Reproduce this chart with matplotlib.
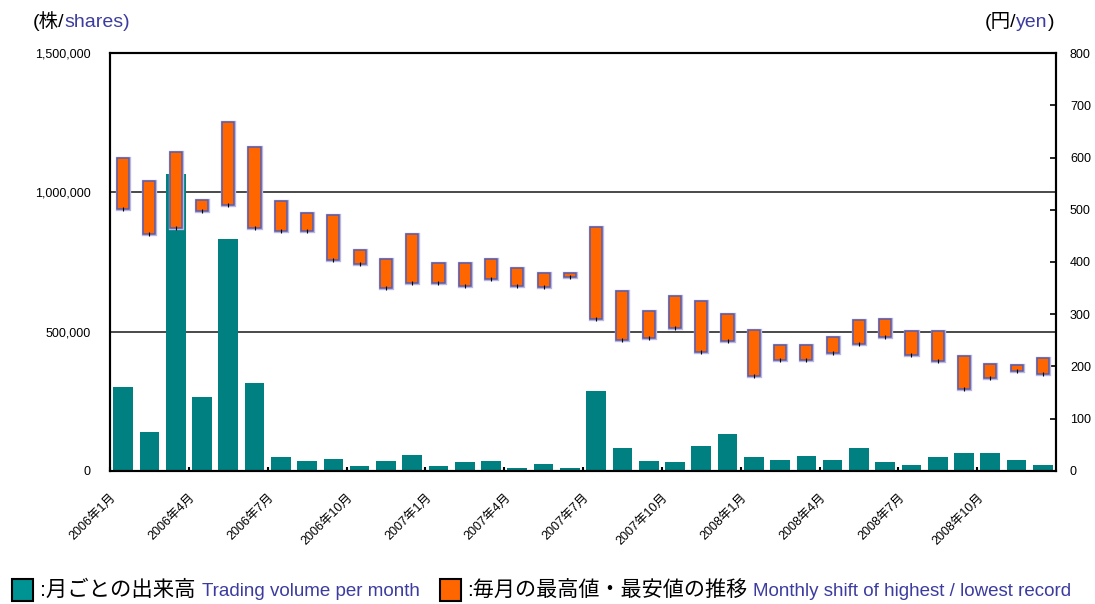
import numpy as np
import matplotlib
matplotlib.use("Agg")
import matplotlib.pyplot as plt
from matplotlib.patches import Rectangle

plt.rcParams["font.family"] = ["Liberation Sans", "Noto Sans CJK JP", "DejaVu Sans"]

# monthly data, 2006/1 .. 2008/12
MONTHS = [f"{y}年{m}月" for y in (2006, 2007, 2008) for m in range(1, 13)]
TICK_LABELS = [
    "2006年1月", "2006年4月", "2006年7月", "2006年10月",
    "2007年1月", "2007年4月", "2007年7月", "2007年10月",
    "2008年1月", "2008年4月", "2008年7月", "2008年10月",
]
VOLUME = [300000, 140000, 1065000, 266000, 831000, 316000, 50000, 36000, 43000, 18000,
          36000, 57000, 18000, 32000, 36000, 11000, 25000, 11000, 288000, 83000,
          36000, 32000, 90000, 133000, 50000, 40000, 54000, 40000, 83000, 32000,
          22000, 50000, 65000, 65000, 40000, 22000]
HIGH = [600, 556, 610, 519, 669, 620, 516, 494, 490, 423,
        406, 453, 399, 399, 406, 389, 379, 379, 467, 345,
        306, 335, 326, 301, 269, 240, 240, 257, 289, 291,
        267, 267, 220, 205, 203, 216]
LOW = [501, 453, 465, 497, 509, 465, 460, 460, 403, 397,
       351, 359, 359, 354, 367, 354, 352, 372, 290, 251,
       255, 274, 227, 249, 182, 212, 212, 225, 242, 257,
       222, 210, 156, 178, 191, 185]
VOL_TICKS = [0, 500000, 1000000, 1500000]
YEN_TICKS = [0, 100, 200, 300, 400, 500, 600, 700, 800]

TEAL = "#008080"
ORANGE = "#FF6600"
EDGE = "#5B5BA8"
BLUE = "#3C3CA0"

W, H = 1095, 604


def fx(px):
    return px / W


def fy(py):
    return 1 - py / H


fig = plt.figure(figsize=(W / 100, H / 100), dpi=100)
renderer = fig.canvas.get_renderer()


def text_run(x_px, y_px, pieces, align="left"):
    """Lay out (text, colour, size, gap_before) pieces on one baseline."""
    placed = []
    cur = x_px
    for s, color, size, gap in pieces:
        cur += gap
        t = fig.text(fx(cur), fy(y_px), s, color=color, fontsize=size, va="baseline")
        placed.append((t, cur))
        cur += t.get_window_extent(renderer).width
    if align == "right":
        shift = x_px - cur
        for t, px in placed:
            t.set_x(fx(px + shift))


ax = fig.add_axes([fx(110), fy(470.7), (1056 - 110) / W, (470.7 - 53.3) / H])
ax2 = ax.twinx()

x = np.arange(len(MONTHS))
high = np.array(HIGH)
low = np.array(LOW)

# volume bars (left axis)
for yv in VOL_TICKS[1:3]:
    ax.axhline(yv, color="#3a3a3a", linewidth=1.3, zorder=1)
ax.bar(x, VOLUME, width=0.75, color=TEAL, zorder=2)
ax.set_xlim(-0.5, len(MONTHS) - 0.5)
ax.set_ylim(0, 1500000)
ax.set_yticks(VOL_TICKS)
ax.set_yticklabels([f"{v:,}" for v in VOL_TICKS])
ax.tick_params(axis="y", length=0, pad=14, labelsize=9)
ax.set_xticks(x[::3] - 0.5)
ax.set_xticklabels(TICK_LABELS)
ax.tick_params(axis="x", direction="in", length=3, width=1.5, pad=15, labelsize=9)
for lab in ax.get_xticklabels():
    lab.set_rotation(45)
    lab.set_ha("right")
    lab.set_va("top")
    lab.set_rotation_mode("anchor")

# monthly high/low floating bars (right axis)
ax2.bar(x, high - low, bottom=low, width=0.46, color=ORANGE,
        edgecolor="#B8B8E0", linewidth=2.4, zorder=2)
ax2.bar(x, high - low, bottom=low, width=0.46, color=ORANGE,
        edgecolor=EDGE, linewidth=1.1, zorder=3)
ax2.plot(x, low, ls="none", marker="|", ms=3, mew=0.8, color="black", zorder=4)
ax2.set_ylim(0, 800)
ax2.set_yticks(YEN_TICKS)
ax2.tick_params(axis="y", direction="in", length=4, width=1.2, pad=10, labelsize=9)

for a in (ax, ax2):
    for sp in a.spines.values():
        sp.set_color("black")
        sp.set_linewidth(1.5)

# axis unit headers
text_run(33, 27, [("(株/", "black", 14, 0), ("shares)", BLUE, 14, 0)])
text_run(1054, 27, [("(円/", "black", 14, 0), ("yen", BLUE, 14, 0),
                    (")", "black", 14, 0)], align="right")

# legend at the bottom
fig.add_artist(Rectangle((fx(12), fy(601)), 21 / W, 22 / H, facecolor="#009393",
                         edgecolor="black", linewidth=1.5, transform=fig.transFigure))
text_run(40, 596, [(":月ごとの出来高", "black", 15.4, 0),
                   ("Trading volume per month", BLUE, 13.5, 6)])
fig.add_artist(Rectangle((fx(440), fy(601)), 21 / W, 22 / H, facecolor=ORANGE,
                         edgecolor="black", linewidth=1.5, transform=fig.transFigure))
text_run(467, 596, [(":毎月の最高値・最安値の推移", "black", 15.2, 0),
                    ("Monthly shift of highest / lowest record", BLUE, 13.5, 6)])

fig.savefig("out.png", dpi=100)
